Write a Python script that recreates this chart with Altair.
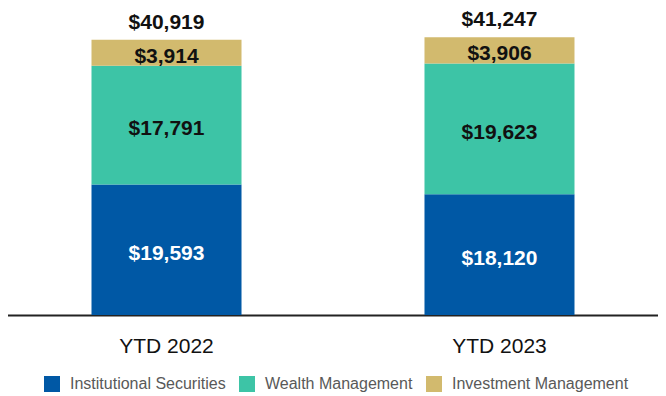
import altair as alt
import pandas as pd

categories = ["YTD 2022", "YTD 2023"]
segments = ["Institutional Securities", "Wealth Management", "Investment Management"]
institutional = [19593, 18120]
wealth = [17791, 19623]
investment = [3914, 3906]
totals = [40919, 41247]
colors = ["#0058A5", "#3DC4A6", "#D2BA6E"]

series = [institutional, wealth, investment]
rows = []
for i, c in enumerate(categories):
    for k, seg in enumerate(segments):
        rows.append({"category": c, "segment": seg, "value": series[k][i], "order": k})
df = pd.DataFrame(rows)
tot = pd.DataFrame({
    "category": categories,
    "total": totals,
    "top": [sum(s[i] for s in series) for i in range(len(categories))],
})

font = "Liberation Sans"
ymax = 46050
xscale = alt.Scale(domain=categories, range=[-8, 658], paddingInner=0.5495, paddingOuter=0.2748)
yscale = alt.Scale(domain=[0, ymax])

xaxis = alt.Axis(title=None, labelAngle=0, labelFontSize=21, labelFont=font,
                 labelColor="#111111", labelPadding=20, ticks=False, tickSize=0,
                 domainColor="#222222", domainWidth=2, grid=False)

base = alt.Chart(df).transform_stack(
    stack="value", groupby=["category"], as_=["y0", "y1"],
    sort=[alt.SortField("order", order="ascending")]
).transform_calculate(mid="(datum.y0 + datum.y1) / 2")

bars = base.mark_bar().encode(
    x=alt.X("category:N", scale=xscale, axis=xaxis),
    y=alt.Y("y0:Q", scale=yscale, axis=None),
    y2="y1:Q",
    color=alt.Color("segment:N", scale=alt.Scale(domain=segments, range=colors),
                    legend=alt.Legend(title=None, orient="none", legendX=36, legendY=368,
                                      direction="horizontal", symbolType="square",
                                      symbolSize=256, symbolStrokeWidth=0,
                                      labelFontSize=16, labelFont=font, labelColor="#595959",
                                      labelOffset=10, columnPadding=13, padding=0,
                                      labelLimit=400)),
)

labels = base.mark_text(font=font, fontSize=21, fontWeight="bold",
                        baseline="alphabetic", dy=10).encode(
    x=alt.X("category:N", scale=xscale),
    y=alt.Y("mid:Q", scale=yscale),
    text=alt.Text("value:Q", format="$,.0f"),
    color=alt.condition(alt.datum.segment == "Institutional Securities",
                        alt.value("white"), alt.value("#111111")),
)

tot_labels = alt.Chart(tot).mark_text(font=font, fontSize=21, fontWeight="bold",
                                      baseline="alphabetic", dy=-11, color="#111111").encode(
    x=alt.X("category:N", scale=xscale),
    y=alt.Y("top:Q", scale=yscale),
    text=alt.Text("total:Q", format="$,.0f"),
)

chart = alt.layer(bars, labels, tot_labels).properties(
    width=650, height=307,
    autosize=alt.AutoSizeParams(type="none"),
    padding={"left": 0, "top": 0, "right": 0, "bottom": 77},
).configure_view(stroke=None)

chart.save("out.html", embed_options={"renderer": "svg", "actions": False})
